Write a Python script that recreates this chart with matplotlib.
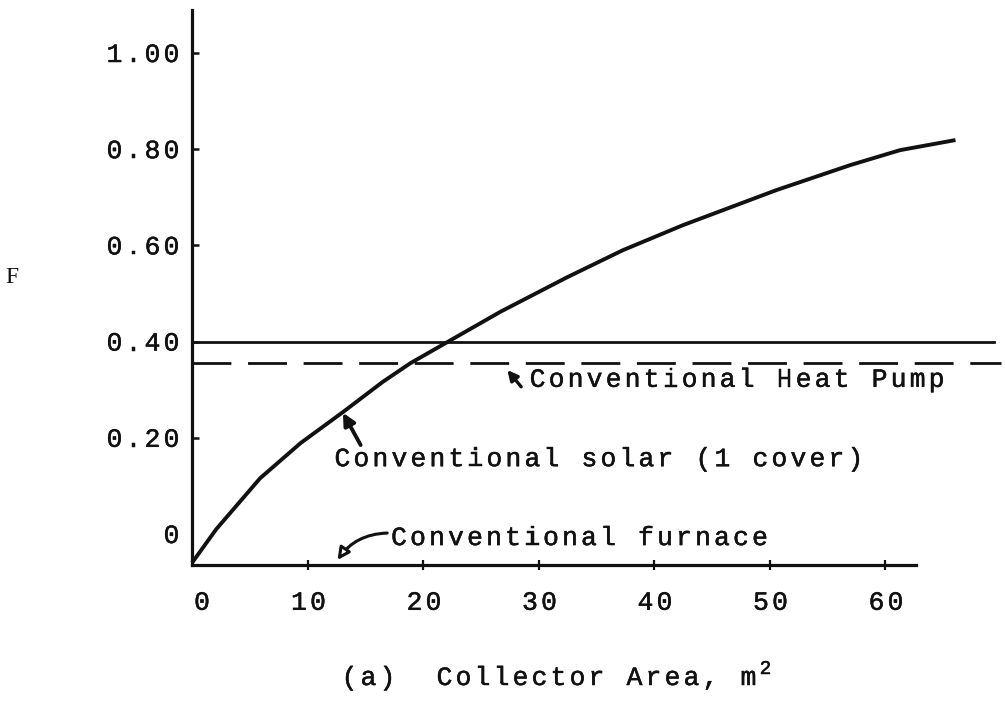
import matplotlib
matplotlib.use("Agg")
import matplotlib.pyplot as plt
import matplotlib.patheffects as pe
from matplotlib.transforms import offset_copy

# ---- data -------------------------------------------------------------
collector_area = [0.0, 2.1, 5.9, 9.4, 13.1, 16.5, 18.9, 26.7, 32.5,
                  37.3, 42.5, 50.6, 57.0, 61.3, 66.1]
solar_fraction = [-0.06, 0.01, 0.116, 0.189, 0.254, 0.316, 0.355, 0.462,
                  0.534, 0.590, 0.642, 0.715, 0.767, 0.798, 0.819]
heat_pump_solar_F = 0.40
conventional_heat_pump_F = 0.355

x_ticks = [0, 10, 20, 30, 40, 50, 60]
x_tick_labels = ["0", "10", "20", "30", "40", "50", "60"]
y_ticks = [0.0, 0.2, 0.4, 0.6, 0.8, 1.0]
y_tick_labels = ["0", "0.20", "0.40", "0.60", "0.80", "1.00"]

# ---- figure / axes layout (pixels) -----------------------------------
W, H = 1005, 702
fig = plt.figure(figsize=(W / 100, H / 100), dpi=100)
fig.patch.set_facecolor("white")

X0_PX, X_SCALE = 192.0, 11.55      # pixel of x=0, pixels per m^2
F0_PX, F_SCALE = 534.0, 481.0      # pixel of F=0, pixels per unit F
XLIM = (0.0, 70.0)
YLIM = (-0.064, 1.10)
bottom_px = F0_PX - YLIM[0] * F_SCALE
top_px = F0_PX - YLIM[1] * F_SCALE
ax = fig.add_axes([X0_PX / W, 1 - bottom_px / H,
                   (XLIM[1] - XLIM[0]) * X_SCALE / W, (bottom_px - top_px) / H])
ax.set_xlim(*XLIM)
ax.set_ylim(*YLIM)
ax.patch.set_alpha(0)

INK = "#111111"
MONO = "Liberation Mono"
INKED = [pe.withStroke(linewidth=0.35, foreground=INK)]

for side in ("top", "right"):
    ax.spines[side].set_visible(False)
for side in ("left", "bottom"):
    ax.spines[side].set_linewidth(2.3)
    ax.spines[side].set_color(INK)
ax.spines["left"].set_bounds(YLIM[0], 1.09)
ax.spines["bottom"].set_bounds(0, 62.7)

ax.set_xticks(x_ticks[1:])
ax.set_yticks(y_ticks[1:])
ax.tick_params(axis="x", direction="inout", length=7, width=1.6, color=INK,
               labelbottom=False)
ax.tick_params(axis="y", direction="in", length=5, width=1.8, color=INK,
               labelleft=False)


def typed(x, y, s, transform, size=19, pitch=19.0, ha="left", dx=0.0, dy=0.0):
    """Draw a string one character per fixed-width cell, like a typewriter."""
    n = len(s)
    start = {"left": 0.0, "center": -n * pitch / 2, "right": -n * pitch}[ha]
    for i, ch in enumerate(s):
        if ch == " ":
            continue
        tr = offset_copy(transform, fig=fig, x=dx + start + (i + 0.5) * pitch,
                         y=dy, units="dots")
        ax.text(x, y, ch, transform=tr, ha="center", va="baseline",
                fontsize=size, family=MONO, color=INK, clip_on=False,
                path_effects=INKED)


# tick labels
for v, lab in zip(y_ticks, y_tick_labels):
    typed(0, v, lab, ax.get_yaxis_transform(), ha="right", dx=-11, dy=-9)
for v, lab in zip(x_ticks, x_tick_labels):
    nudge = 10 if v == 0 else 1
    typed(v, 0, lab, ax.get_xaxis_transform(), ha="center", dx=nudge, dy=-45)

# ---- curves ------------------------------------------------------------
ax.plot(collector_area, solar_fraction, color=INK, lw=2.8,
        solid_capstyle="butt", solid_joinstyle="round", clip_on=False)
ax.plot([0, 69.4], [heat_pump_solar_F] * 2, color=INK, lw=2.0, clip_on=False)
ax.plot([0, 70], [conventional_heat_pump_F] * 2, color=INK, lw=2.0,
        linestyle=(0, (14, 6)), clip_on=False)

# ---- annotations -------------------------------------------------------
typed(29.1, 0.306, "Conventional Heat Pump", ax.transData)
ax.annotate("", xy=(27.3, 0.341), xytext=(28.5, 0.306),
            arrowprops=dict(arrowstyle="-|>", lw=2.4, color=INK,
                            mutation_scale=15, shrinkA=0, shrinkB=0))

typed(12.2, 0.141, "Conventional solar (1 cover)", ax.transData)
ax.annotate("", xy=(13.07, 0.252), xytext=(14.6, 0.185),
            arrowprops=dict(arrowstyle="-|>", lw=2.8, color=INK,
                            mutation_scale=18, shrinkA=0, shrinkB=0))

typed(17.1, -0.023, "Conventional furnace", ax.transData)
ax.annotate("", xy=(12.6, -0.054), xytext=(16.9, 0.002),
            arrowprops=dict(arrowstyle="-|>", lw=2.2, ec=INK, fc="white",
                            mutation_scale=18, shrinkA=0, shrinkB=0,
                            connectionstyle="arc3,rad=0.25"))

# axis titles
typed(340 / W, 1 - 685 / H, "(a)  Collector Area, m", fig.transFigure)
typed(340 / W, 1 - 685 / H, "2", fig.transFigure, size=14,
      dx=22 * 19.0 - 2, dy=11)
ax.text(12 / W, 1 - 277 / H, "F", transform=fig.transFigure, ha="center",
        va="center", fontsize=17, family="Liberation Serif", color=INK)

fig.savefig("out.png", dpi=100, facecolor="white")
